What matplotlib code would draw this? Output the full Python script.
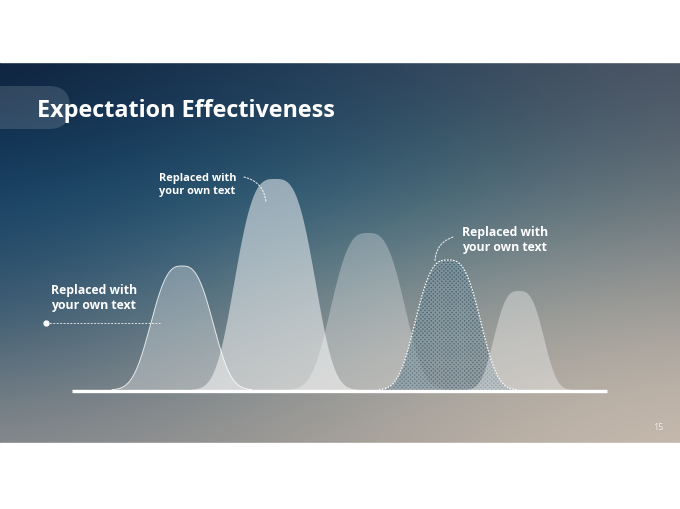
import numpy as np
import matplotlib.pyplot as plt
from matplotlib.patches import FancyBboxPatch

# slide geometry (pixels)
slide_top, slide_bottom = 63, 444
base_y = 391

# peaks: centre, height, width, shape exponent
peak_x = [182, 275, 368, 448, 519]
peak_h = [124, 211, 157, 130, 99]
peak_w = [37, 46, 43, 38, 29]
peak_p = [2.8, 3.2, 3.0, 3.0, 3.0]
peak_alpha = [0.30, 0.50, 0.28, 0.0, 0.35]

labels = ['Replaced with\nyour own text'] * 3
title = 'Expectation Effectiveness'
page_no = '15'

# background colour grid (rows top->bottom, cols left->right)
bg_colors = [
    ['#0d1c35', '#1b3350', '#32445a', '#4a5262'],
    ['#134066', '#1d5272', '#3c6676', '#67737a'],
    ['#36566e', '#6a8088', '#9c9f9a', '#a8a29c'],
    ['#8d8e8f', '#9c9794', '#b9aea4', '#cdbfb1'],
]

def hex2rgb(h):
    h = h.lstrip('#')
    return [int(h[i:i + 2], 16) / 255 for i in (0, 2, 4)]

bg = np.array([[hex2rgb(c) for c in row] for row in bg_colors])

fig = plt.figure(figsize=(6.8, 5.1), dpi=100)
ax = fig.add_axes([0, 0, 1, 1])
ax.set_xlim(0, 680)
ax.set_ylim(510, 0)
ax.axis('off')

ax.imshow(bg, extent=(-100, 780, slide_bottom + 60, slide_top - 60),
          interpolation='bicubic', zorder=0, aspect='auto')
# clip background to slide
ax.add_patch(plt.Rectangle((0, 0), 680, slide_top, color='white', zorder=1))
ax.add_patch(plt.Rectangle((0, slide_bottom), 680, 510 - slide_bottom, color='white', zorder=1))

# title pill + title
ax.add_patch(FancyBboxPatch((-40, 87), 110, 43, boxstyle='round,pad=0,rounding_size=21',
                            fc=(1, 1, 1, 0.14), ec='none', zorder=2))
ax.text(37, 117, title, fontsize=16.8, weight='bold', color='white',
        family='Open Sans', va='baseline', zorder=3)

# bell curves
x = np.linspace(72, 607, 1200)
for i in range(len(peak_x)):
    y = peak_h[i] * np.exp(-np.abs((x - peak_x[i]) / peak_w[i]) ** peak_p[i])
    top = base_y - y
    m = y > 0.3
    if i == 3:
        ax.fill_between(x, base_y, top, where=m, facecolor=(0.10, 0.26, 0.34, 0.5),
                        edgecolor=(1, 1, 1, 0.3), hatch='xxxxxxxx', linewidth=0, zorder=4)
        ax.plot(x[m], top[m], color='white', lw=0.9, ls=(0, (1.2, 1.2)), zorder=5)
    else:
        ax.fill_between(x, base_y, top, where=m, facecolor=(1, 1, 1, peak_alpha[i]),
                        linewidth=0, zorder=4)
        if i == 0:
            ax.plot(x[m], top[m], color=(1, 1, 1, 0.8), lw=0.7, zorder=5)

# baseline
ax.plot([72, 607], [392.4, 392.4], color='white', lw=2.4, solid_capstyle='butt', zorder=6)

# labels
txt = dict(weight='bold', color='white', family='Open Sans',
           linespacing=1.15, zorder=7, va='center', ha='left')
ax.text(51, 298, labels[0], fontsize=8.8, **txt)
ax.text(159, 185, labels[1], fontsize=7.9, **txt)
ax.text(462, 240, labels[2], fontsize=8.8, **txt)

# leaders
ax.plot([46, 160], [324, 324], color=(1, 1, 1, 0.8), lw=0.7, ls=(0, (2, 1.5)), zorder=7)
ax.plot([46], [324], 'o', color='white', ms=3.5, zorder=7)
lead = dict(arrowstyle='-', color=(1, 1, 1, 0.8), lw=0.8, ls=(0, (1.5, 1.5)),
            shrinkA=0, shrinkB=0)
ax.annotate('', xy=(266, 203), xytext=(244, 178),
            arrowprops=dict(connectionstyle='arc3,rad=-0.35', **lead), zorder=7)
ax.annotate('', xy=(435, 263), xytext=(453, 238),
            arrowprops=dict(connectionstyle='arc3,rad=0.35', **lead), zorder=7)

ax.text(658, 428, page_no, fontsize=6.5, color=(1, 1, 1, 0.75), ha='center', va='center',
        family='Open Sans', zorder=7)

fig.savefig('out.png', dpi=100)
